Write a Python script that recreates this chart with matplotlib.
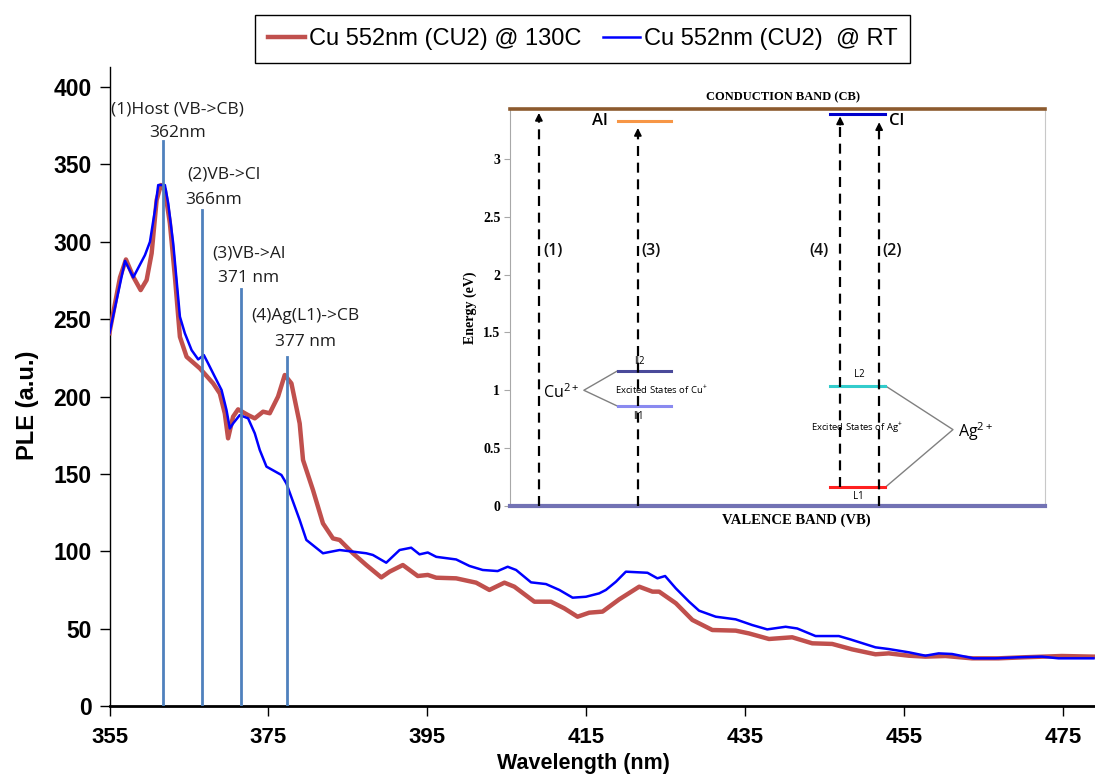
import matplotlib
matplotlib.use("Agg")
import matplotlib.pyplot as plt

plt.rcParams["mathtext.fontset"] = "custom"
plt.rcParams["mathtext.rm"] = "Open Sans"
plt.rcParams["mathtext.it"] = "Open Sans"
plt.rcParams["mathtext.bf"] = "Open Sans:bold"

# ---------------- data ----------------
wl_130 = [355.0, 355.06, 356.32, 357.07, 357.99, 358.92, 359.67, 360.30, 360.93, 361.47,
          361.97, 362.60, 363.23, 363.86, 364.70, 366.37, 368.04, 368.88, 369.51, 369.92,
          370.55, 371.18, 372.44, 373.28, 374.32, 375.16, 376.21, 377.05, 377.89, 378.93,
          379.35, 380.60, 381.86, 383.12, 383.96, 385.63, 387.31, 389.20, 390.24, 391.91,
          393.79, 395.05, 396.11, 398.62, 401.13, 402.80, 404.69, 405.94, 408.46, 410.55,
          412.22, 413.89, 415.36, 417.04, 419.13, 421.65, 423.32, 424.16, 426.26, 428.34,
          430.85, 433.79, 435.46, 437.98, 440.90, 443.42, 445.93, 448.44, 451.38, 453.05,
          455.56, 457.66, 460.18, 463.52, 466.87, 470.23, 474.82, 478.81]
ple_130 = [241, 243, 277, 288.6, 277.4, 268.8, 275.3, 292.5, 327, 336.7,
           333.4, 311.9, 277.4, 238.6, 225.7, 218.2, 208.5, 202, 189, 173,
           187, 191.7, 188, 185.9, 190.2, 189.2, 200, 213.9, 208.5, 182.6,
           159, 139.6, 118, 108.3, 107.3, 98.7, 91.1, 83.1, 86.8, 91.1,
           84, 84.7, 82.9, 82.5, 79.7, 75, 79.7, 77.1, 67.4, 67.4,
           63.1, 57.7, 60.3, 61, 68.9, 77.1, 73.9, 73.9, 66.4, 55.6,
           49.1, 48.7, 46.9, 43.3, 44.4, 40.5, 40.1, 36.6, 33.4, 34,
           32.5, 31.9, 32.3, 30.8, 30.8, 31.5, 32.3, 31.9]

wl_rt = [355.0, 356.95, 357.99, 359.46, 360.09, 360.72, 361.13, 361.97, 362.39, 363.02,
         363.86, 364.48, 365.33, 366.16, 366.87, 367.41, 368.25, 369.10, 369.72, 370.14,
         370.55, 371.39, 372.44, 373.28, 373.91, 374.75, 376.63, 377.26, 378.93, 379.77,
         381.86, 383.96, 387.31, 388.14, 389.82, 391.50, 392.96, 394.01, 395.05, 396.11,
         398.62, 400.29, 401.96, 403.84, 405.10, 406.16, 408.04, 409.92, 411.60, 413.27,
         414.95, 416.62, 417.46, 418.72, 419.97, 422.69, 423.94, 424.91, 426.26, 427.93,
         429.18, 431.28, 433.79, 435.88, 437.76, 440.07, 441.53, 443.84, 446.77, 448.24,
         451.38, 453.05, 455.56, 457.66, 459.33, 461.01, 463.73, 466.45, 469.38, 472.31,
         474.40, 478.81]
ple_rt = [241, 287.7, 277, 291.4, 300, 320.5, 336.7, 336.7, 324.8, 298.8,
          251.6, 240.9, 230, 224, 226.8, 221.4, 212.8, 204.2, 191.3, 179.4,
          182.6, 188, 185.9, 176.2, 165.4, 154.7, 149.3, 143.8, 120.2, 107.3,
          98.7, 100.8, 98.7, 97.6, 92.6, 100.8, 102.3, 98, 99.2, 96.4,
          94.7, 90.5, 87.9, 87.2, 90, 87.9, 79.9, 78.8, 75, 70,
          70.6, 72.8, 75, 80.3, 86.8, 86.1, 82.5, 84, 76, 67.4,
          61.6, 57.7, 56, 52.3, 49.5, 51.2, 50.1, 45.2, 45.2, 43,
          37.9, 36.8, 34.7, 32.5, 34, 33.6, 30.8, 30.8, 31.5, 31.9,
          30.8, 30.8]

series_labels = ["Cu 552nm (CU2) @ 130C", "Cu 552nm (CU2)  @ RT"]
xticks = [355, 375, 395, 415, 435, 455, 475]
yticks = [0, 50, 100, 150, 200, 250, 300, 350, 400]

# transition marker lines (position, top) and their labels
marker_x = [361.7, 366.6, 371.6, 377.3]
marker_top = [365, 320.5, 269.5, 225.5]
ann_title = ["(1)Host (VB->CB)", "(2)VB->Cl", "(3)VB->Al", "(4)Ag(L1)->CB"]
ann_nm = ["362nm", "366nm", "371 nm", "377 nm"]
ann_title_xy = [(363.6, 385.8), (369.4, 343.8), (372.5, 292.7), (379.7, 252)]
ann_nm_xy = [(363.6, 370.3), (368.1, 327), (372.5, 276.6), (379.6, 235.2)]

# inset energy diagram
cb_top = 3.43
inset_yticks = [0, 0.5, 1, 1.5, 2, 2.5, 3]
arrow_x = [0.054, 0.239, 0.617, 0.690]
arrow_start = [0.0, 0.0, 0.16, 0.0]
arrow_tip = [3.42, 3.29, 3.39, 3.34]
arrow_lbl = ["(1)", "(3)", "(4)", "(2)"]
arrow_lbl_x = [0.080, 0.263, 0.578, 0.714]
levels = {  # name: (x0, x1, energy, color)
    "Al": (0.201, 0.301, 3.33, "#F79646"),
    "Cl": (0.598, 0.701, 3.39, "#0000CC"),
    "ll2": (0.201, 0.301, 1.165, "#4A4A9A"),
    "ll1": (0.201, 0.301, 0.865, "#8A8AF0"),
    "L2": (0.598, 0.701, 1.04, "#33CCCC"),
    "L1": (0.598, 0.701, 0.16, "#FF2020"),
}

# ---------------- figure ----------------
fig = plt.figure(figsize=(10.95, 7.77), dpi=100)
ax = fig.add_axes([0.1, 0.0914, 0.9, 0.8224])

red = "#C0504D"
ax.plot(wl_130, ple_130, color=red, lw=3.2, solid_joinstyle="round", zorder=3,
        label=series_labels[0])
ax.plot(wl_rt, ple_rt, color="#0000FF", lw=1.8, solid_joinstyle="round", zorder=4,
        label=series_labels[1])

for x, top in zip(marker_x, marker_top):
    ax.plot([x, x], [0, top], color="#4F81BD", lw=2.0, zorder=5)

txtkw = dict(family=["Open Sans", "DejaVu Sans"], fontsize=12.5, color="#1E1E1E",
             ha="center", va="center", zorder=6)
for t, (x, y) in zip(ann_title, ann_title_xy):
    ax.text(x, y, t, **txtkw)
for t, (x, y) in zip(ann_nm, ann_nm_xy):
    ax.text(x, y, t, **txtkw)

ax.set_xlim(355, 479)
ax.set_ylim(0, 413)
ax.set_xticks(xticks)
ax.set_yticks(yticks)
for sp in ["top", "right"]:
    ax.spines[sp].set_visible(False)
ax.spines["bottom"].set_linewidth(2.0)
ax.spines["left"].set_linewidth(1.0)
ax.tick_params(axis="both", direction="out", length=7, width=1.0, labelsize=16.5)
ax.tick_params(axis="x", pad=8, labelsize=16)
ax.tick_params(axis="y", pad=6)
for lab in ax.get_xticklabels() + ax.get_yticklabels():
    lab.set_fontweight("bold")
    lab.set_family(["Liberation Sans", "DejaVu Sans"])

ax.set_xlabel("Wavelength (nm)", fontsize=15.5, fontweight="bold",
              family=["Liberation Sans", "DejaVu Sans"])
ax.xaxis.set_label_coords(0.4805, -0.09)
ax.xaxis.label.set_va("center")
ax.set_ylabel("PLE (a.u.)", fontsize=17, fontweight="bold",
              family=["Liberation Sans", "DejaVu Sans"])
ax.yaxis.set_label_coords(-0.0827, 0.471)
ax.yaxis.label.set_va("center")

leg = fig.legend(loc="center", bbox_to_anchor=(0.532, 0.95), ncol=2, frameon=True,
                 fancybox=False, edgecolor="black", framealpha=1,
                 prop=dict(family=["Liberation Sans", "DejaVu Sans"], size=17),
                 handlelength=1.6, handletextpad=0.15, columnspacing=0.9,
                 borderpad=0.55, borderaxespad=0)
leg.get_frame().set_linewidth(1.0)

# ---------------- inset ----------------
ia = fig.add_axes([510 / 1095, (777 - 506) / 777, 535 / 1095, 397 / 777])
ia.set_zorder(10)
ia.set_facecolor("white")
ia.set_xlim(0, 1)
ia.set_ylim(0, cb_top)
ia.set_xticks([])
ia.set_yticks(inset_yticks)
ia.set_yticklabels(["0", "0.5", "1", "1.5", "2", "2.5", "3"])
ia.spines["top"].set_color("#8C5A2E")
ia.spines["top"].set_linewidth(2.6)
ia.spines["bottom"].set_color("#7272B4")
ia.spines["bottom"].set_linewidth(3.0)
ia.spines["left"].set_color("#A8A8A8")
ia.spines["right"].set_color("#C8C8C8")
ia.tick_params(axis="y", direction="out", length=4, color="#A8A8A8", pad=3)
serif = ["Liberation Serif", "DejaVu Serif"]
for lab in ia.get_yticklabels():
    lab.set_family(serif)
    lab.set_fontweight("bold")
    lab.set_fontsize(10)
ia.set_ylabel("Energy (eV)", family=serif, fontweight="bold", fontsize=10, labelpad=4)
ia.text(0.51, 1.03, "CONDUCTION BAND (CB)", transform=ia.transAxes, ha="center",
        va="center", family=serif, fontweight="bold", fontsize=9)
ia.text(0.535, -0.036, "VALENCE BAND (VB)", transform=ia.transAxes, ha="center",
        va="center", family=serif, fontweight="bold", fontsize=10.5)

sans = ["Open Sans", "DejaVu Sans"]
for name, (x0, x1, e, c) in levels.items():
    ia.plot([x0, x1], [e, e], color=c, lw=2.2, zorder=3)

for x, y0, y1, lbl, lx in zip(arrow_x, arrow_start, arrow_tip, arrow_lbl, arrow_lbl_x):
    ia.plot([x, x], [y0, y1 - 0.08], color="black", lw=1.6, ls=(0, (4.5, 3)), zorder=4)
    ia.annotate("", xy=(x, y1), xytext=(x, y1 - 0.12),
                arrowprops=dict(arrowstyle="-|>", color="black", lw=1.2,
                                mutation_scale=11), zorder=5)
    ia.text(lx, 2.2, lbl, ha="center", va="center", family=sans, fontsize=11.5,
            color="#101010", fontweight="semibold")

ia.text(0.168, 3.33, "Al", ha="center", va="center", family=sans, fontsize=12,
        fontweight="semibold")
ia.text(0.722, 3.33, "Cl", ha="center", va="center", family=sans, fontsize=12,
        fontweight="semibold")
ia.text(0.241, 1.25, "ll2", ha="center", va="center", family=sans, fontsize=7)
ia.text(0.241, 0.77, "ll1", ha="center", va="center", family=sans, fontsize=7)
ia.text(0.652, 1.14, "L2", ha="center", va="center", family=sans, fontsize=7)
ia.text(0.652, 0.085, "L1", ha="center", va="center", family=sans, fontsize=7)
ia.text(0.282, 1.0, "Excited States of Cu$^{+}$", ha="center", va="center",
        family=sans, fontsize=6.8)
ia.text(0.648, 0.67, "Excited States of Ag$^{+}$", ha="center", va="center",
        family=sans, fontsize=6.8)
ia.text(0.095, 0.98, "Cu$^{2+}$", ha="center", va="center", family=sans, fontsize=11.5)
ia.text(0.838, 0.64, "Ag$^{2+}$", ha="left", va="center", family=sans, fontsize=11.5)

# brackets
ia.plot([0.200, 0.138, 0.200], [1.165, 1.0, 0.865], color="#808080", lw=1.0)
ia.plot([0.701, 0.828, 0.701], [1.04, 0.66, 0.16], color="#808080", lw=1.0)

fig.savefig("out.png", dpi=100)
